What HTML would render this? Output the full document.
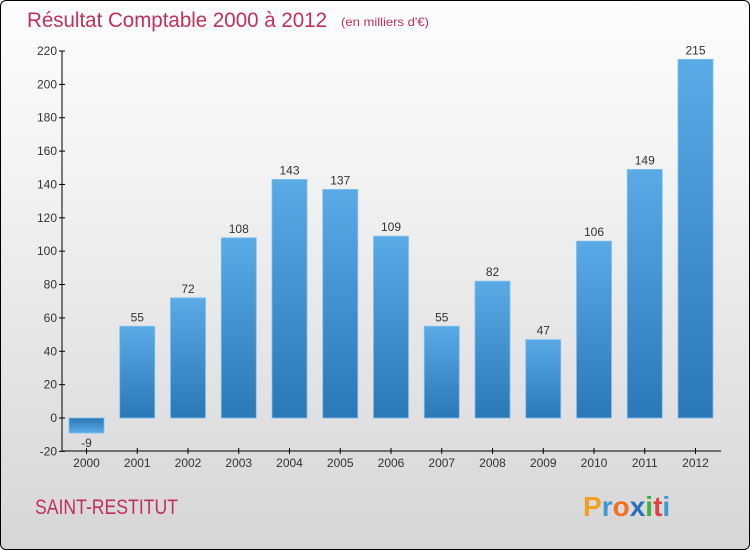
<!DOCTYPE html>
<html><head><meta charset="utf-8"><style>
body{margin:0}
#c{width:748px;height:548px;border:1px solid #000;border-radius:6px;background:linear-gradient(#fdfdfd,#f3f3f3 30%,#d6d6d6);position:relative;overflow:hidden;font-family:"Liberation Sans",sans-serif}
</style></head><body>
<div id="c">
<svg id="s" width="748" height="548">
<defs><linearGradient id="g" x1="0" y1="0" x2="0" y2="1"><stop offset="0" stop-color="#5aaae6"/><stop offset="1" stop-color="#2a78b6"/></linearGradient>
<linearGradient id="gn" x1="0" y1="0" x2="0" y2="1"><stop offset="0" stop-color="#2a78b6"/><stop offset="1" stop-color="#5aaae6"/></linearGradient></defs>
<text x="26" y="26" font-size="21" fill="#c0305a" textLength="300" lengthAdjust="spacingAndGlyphs">Résultat Comptable 2000 à 2012</text>
<text x="340" y="25" font-size="12" fill="#c0305a" textLength="88" lengthAdjust="spacingAndGlyphs">(en milliers d'€)</text>
<text x="34" y="513" font-size="21" fill="#c0305a" textLength="143" lengthAdjust="spacingAndGlyphs">SAINT-RESTITUT</text>
<text x="582" y="515" font-size="28" font-weight="bold"><tspan fill="#f0a020">P</tspan><tspan fill="#3a9ad8">r</tspan><tspan fill="#f07020">o</tspan><tspan fill="#2a70c0">x</tspan><tspan fill="#40b040">i</tspan><tspan fill="#e04040">t</tspan><tspan fill="#3a9ad8">i</tspan></text>
<g id="plot"></g>
</svg></div>
<script>
const years=["2000","2001","2002","2003","2004","2005","2006","2007","2008","2009","2010","2011","2012"];
const values=[-9,55,72,108,143,137,109,55,82,47,106,149,215];
const ticks=[-20,0,20,40,60,80,100,120,140,160,180,200,220];
const NS="http://www.w3.org/2000/svg",p=document.getElementById('plot');
const y=v=>417-v*(367/220), x=i=>85.5+i*50.75;
function el(t,a,parent){const e=document.createElementNS(NS,t);for(const k in a)e.setAttribute(k,a[k]);(parent||p).appendChild(e);return e;}
let ax=el('line',{x1:61,y1:50,x2:61,y2:450,stroke:'#000'});

let bx=el('line',{x1:61,y1:450,x2:720,y2:450,stroke:'#000'});

ticks.forEach(t=>{el('line',{x1:58,x2:64,y1:y(t),y2:y(t),stroke:'#000'});
const tx=el('text',{x:56,y:y(t)+4,'text-anchor':'end','font-size':12,fill:'#333'});tx.textContent=t;
});
years.forEach((yr,i)=>{const v=values[i],cx=x(i),y0=y(0),yv=y(v);
const r=el('rect',{x:cx-17.5,y:Math.min(y0,yv),width:35,height:Math.abs(yv-y0),fill:v<0?'url(#gn)':'url(#g)',stroke:'#7cc0f0','stroke-width':0.8});

const l=el('text',{x:cx,y:v<0?yv+14:yv-5,'text-anchor':'middle','font-size':12,fill:'#333'});l.textContent=v;

el('line',{x1:cx,x2:cx,y1:447,y2:453,stroke:'#000'});
const xl=el('text',{x:cx,y:466,'text-anchor':'middle','font-size':12,fill:'#333'});xl.textContent=yr;
});
</script></body></html>
